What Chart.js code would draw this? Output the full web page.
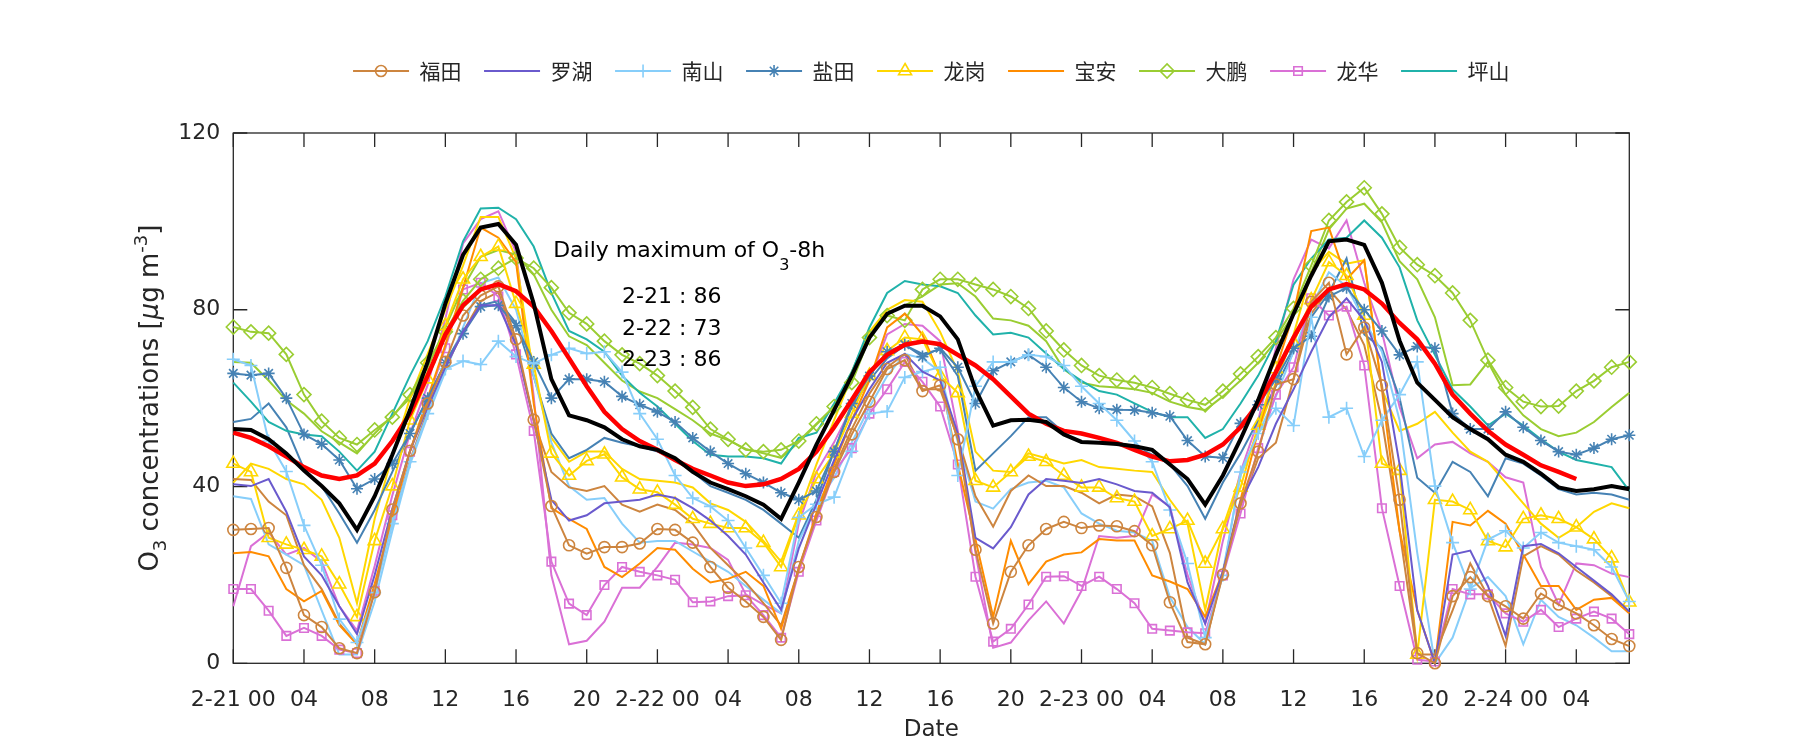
<!DOCTYPE html>
<html>
<head>
<meta charset="utf-8">
<script src="https://cdn.jsdelivr.net/npm/chart.js@4.4.1/dist/chart.umd.min.js"></script>
<style>
html,body{margin:0;padding:0;background:#fff;}
#wrap{width:1800px;height:750px;position:relative;}
</style>
</head>
<body>
<div id="wrap"><canvas id="c" width="1800" height="750"></canvas></div>
<script>
// ---------- categories ----------
const hours = [0,1,2,3,4,5,6,7,8,9,10,11,12,13,14,15,16,17,18,19,20,21,22,23,24,25,26,27,28,29,30,31,32,33,34,35,36,37,38,39,40,41,42,43,44,45,46,47,48,49,50,51,52,53,54,55,56,57,58,59,60,61,62,63,64,65,66,67,68,69,70,71,72,73,74,75,76,77,78,79];
const tickLabels = ["2-21 00","04","08","12","16","20","2-22 00","04","08","12","16","20","2-23 00","04","08","12","16","20","2-24 00","04"];
const legendNames = ["福田","罗湖","南山","盐田","龙岗","宝安","大鹏","龙华","坪山"];
const dailyMaxLabels = ["2-21 : 86","2-22 : 73","2-23 : 86"];

// ---------- series values (O3, µg m-3, hourly) ----------
const futian = [30.2,30.4,30.6,21.6,10.9,8.2,3.4,2.3,16.1,34.8,48.1,58.8,68.2,78.7,83.2,85.3,73.3,55.1,35.6,26.7,24.8,26.3,26.3,27.1,30.4,30.2,27.3,21.8,17.1,14.0,10.5,5.3,21.8,33.1,43.3,51.8,59.2,66.6,68.6,61.6,62.9,50.7,25.7,9.0,20.7,26.7,30.4,32.0,30.6,31.2,31.0,29.9,26.7,13.8,4.8,4.3,20.1,36.2,47.9,63.1,64.3,81.8,86.1,69.9,76.0,62.9,37.0,2.3,0.0,15.2,19.5,15.2,12.9,10.1,15.8,13.3,11.3,8.6,5.5,3.9];
const futian2 = [41.7,41.5,36.6,33.5,22.2,16.8,9.0,4.3,17,32,46,57,67,75,82,84,72,55,43.3,39.8,39.0,40.1,35.9,34.3,35.9,34.7,31.6,26.1,22.2,18.3,13.6,8.6,21.4,33,44,53,61,67,70,62,62,51,37.8,30.9,39.0,42.5,40.1,40.1,38.6,36.2,38.2,37.8,35.5,25,5.8,4.3,20.7,35.5,46.4,49.9,64.3,79.1,84.6,80,72,55,30,2,2,12,22.6,15.2,3.9,24.2,26.5,24.6,21.0,18.3,15.2,11.3];
const luohu = [40.5,40.1,41.7,34.3,24.2,19.9,12.9,6.6,20,35,48,58,67,75,81,81,72,55,37,32.3,33.5,36.2,36.6,37.0,38.2,37.4,35.1,32.3,28.8,24.6,18.3,12.1,26,36,46,55,62,68,70,66,64,52,28.4,26.0,30.8,38.2,41.7,41.3,40.8,41.7,40.5,39.0,38.6,35.3,18.3,9.0,20.7,36.6,44.4,54.2,62.0,70.5,78.3,82.6,77.6,68.2,45,12,0,24.6,25.5,17.5,6.2,26.5,27.0,24.9,21.8,18.7,15.6,11.7];
const nanshan = [68.8,67.4,50.3,43.4,31.2,22.2,10,4.7,16,31.6,45.6,56.5,66.6,68.4,67.6,72.9,69.4,67.8,69.8,71.3,70.1,70.5,65.9,56.5,50.7,42.5,37.4,35.5,32.3,26.1,19.9,13.6,33,36,37.6,48,56.5,57,64.7,66,67,42.5,62.7,68.2,68.2,69.8,69.4,67.4,62.7,58.8,55.0,50.3,45.6,34.7,22.6,5.8,19.9,43.3,52,57.7,53.8,78.3,55.7,57.7,46.8,55,60.8,68.2,40.1,27.3,16.8,28.0,30.0,26.1,29.6,27.3,26.5,25.7,21.8,14.0];
const nanshan2 = [37.8,37.2,26.9,24.6,22.2,12,2,2,14,30,45,56,66,76,86,87.3,80,65,50,40.1,37.0,37.4,31.6,27.3,27.7,27.7,25.3,23.0,20.7,17.5,14.4,11.3,27.7,36,42,50,58,65,70,69,66,50,36.6,35.0,39.4,40.9,41.3,39.8,33.9,31.6,30.0,29.6,27.7,15,8.2,4.3,20.7,42.5,52,60.4,70.5,80.7,88.5,85.3,77.6,70.5,55,25,0,5.8,17.0,19.5,15.2,4.3,14.4,10.5,8.6,5.8,2.7,2.7];
const yantian = [65.6,65.2,65.6,60.0,51.8,49.6,46.0,39.5,41.7,45.2,52,60,68,74.6,80.7,81.0,76.4,68.2,60.0,64.3,64.3,63.7,60.4,58.5,56.9,54.6,51.0,47.9,45.2,42.9,40.9,38.6,37.0,39.0,47.9,58.8,65,70.5,72.1,69.4,71.3,67.0,58.8,66.2,68.2,69.8,67.0,62.4,59.2,57.7,57.4,57.3,56.7,55.9,50.4,46.8,46.5,54.3,58.5,64.3,71.3,74.0,83,85,80,75.2,69.8,71.7,71.3,56.5,53.0,53.0,56.9,53.4,50.4,47.9,47.2,48.7,50.7,51.6];
const yantian2 = [54.6,55.3,58.8,53.4,44.0,40.1,33.9,27.3,34.7,43.3,52,60,68,75,81,82,77,65,52,46.4,48.3,51.0,49.9,49.1,47.9,46.4,43.3,40.1,38.6,37.0,34.7,31.6,28.4,37,48,58,64,69,72,70,71,65,43.6,47.5,51.4,55.7,55.7,52.2,49.9,50.1,49.9,49.1,47.2,45,40.1,32.7,40.9,47.5,55.0,62.7,70.5,78.3,83.8,91.6,74.4,71.3,60,42,38.6,45.6,43.3,37.8,46.4,45.2,42.5,39.4,38.2,38.6,38.2,37.0];
const longgang = [45.2,43.3,28.4,26.9,25.7,24.2,17.9,10.5,27.7,40.1,55.0,64.3,76.4,86.9,92.0,94.3,81.4,67.6,47.5,42.5,45.8,47.3,42.1,39.4,38.7,35.9,32.7,31.6,30.6,30.6,27.3,21.8,33.5,41.7,47.5,56.5,65.1,70.7,73.7,73.3,65,61.2,41.3,39.8,43.3,46.8,45.6,42.5,39.8,39.8,37.4,36.6,28.8,30.4,32.3,22.6,30.4,39.8,53.8,66.6,72.5,82.2,90.8,87.7,78.7,45.2,43.6,2,37.0,36.6,34.7,27.7,26.3,32.7,33.5,32.7,30.8,28.1,23.8,13.8];
const longgang2 = [40.9,45.2,44.0,41.7,40.5,37.0,28.4,13.6,32.7,47,60,70,80,90,101,101,91.6,65,51,45.6,47.9,47.9,44.0,41.7,41.3,40.9,39.8,36.2,34.7,32,27.7,23,33.9,45,55,65,75,80,82.2,81.8,75,66,47.9,43.6,43.3,47.5,46.4,45.2,46.0,44.4,44.0,43.6,43.3,37,31.6,12.1,30.8,42.5,52.6,63.5,74.4,88.5,93.1,90.4,91.2,62,52.6,54.2,56.9,52.2,47.9,45.6,40.9,36.2,31.6,28.4,30.8,34.3,36.2,35.1];
const baoan = [24.9,25.2,24.2,16.8,14.0,16.4,8.6,4.3,18,33,48,60,72,85,98.6,96.3,90.8,58.8,35.1,32.7,30.4,21.8,19.5,22.6,26.1,25.7,21.4,18.3,19.1,20.7,17.5,7.8,21.4,34,45,55,64,76,79.1,74.4,65,45,28,10.5,27.7,17.9,23.0,24.6,25.1,28.1,27.8,27.8,19.9,18.5,16.8,10.5,20.7,37.0,52.6,66.6,79.1,97.8,98.6,86.9,91.2,62,30,12,0,32.0,31.2,34.5,31.6,24.6,17.5,17.5,12.1,14.4,14.8,11.3];
const dapeng = [76.1,75.0,74.7,69.9,60.8,54.8,51.0,49.5,52.8,55.7,60.8,68,75,82,86.9,89.4,91.7,89.4,85.0,79.3,76.8,72.9,69.8,67.8,65.1,61.6,57.9,53.0,50.7,48.3,47.9,48.3,50.3,54.2,58.1,63.5,73.7,78.7,77.6,84.6,86.9,86.9,85.7,84.6,83.0,80.3,75.2,70.9,67.4,65.1,64.1,63.5,62.4,61.0,59.6,58.5,61.6,65.5,69.4,73.7,80.3,90.0,100.2,104.4,107.6,101.7,94.1,90.2,87.7,83.8,77.6,68.6,62.4,59.2,58.1,58.2,61.6,63.9,67.0,68.2];
const dapeng2 = [68.2,68.0,64,59.5,56.5,52.5,50,47.5,52,56,60,67,76,85,92,93.5,92.5,88,80,74,72,68,64,61.5,60,57.5,55,52,50.5,48.5,47.5,46.5,50,54,58,66,75,79,81,83,85.7,86,83,78,77.6,76.4,72.9,66.6,63.5,62.7,62.4,62.0,61.2,59.2,58,57.3,60.4,64,68,72.9,79,88.5,98.2,102.9,104,99.8,91,86.9,78.3,62.9,63.1,68.2,60.8,56.1,53.0,51.4,52.2,54.6,58.0,61.2];
const longhua = [16.8,16.8,11.9,6.2,8.0,6.2,3.1,2.3,16.4,33.5,47.9,59.6,71.3,84.6,86.1,83.0,69.9,52.6,23.0,13.5,10.9,17.7,21.8,20.7,19.9,18.9,13.8,14.0,15.2,15.4,10.9,5.8,20.7,32.3,43.3,48.7,56.5,62.0,68.2,63.7,58.1,45,19.6,4.9,7.8,13.3,19.6,19.7,17.5,19.6,16.8,13.6,7.8,7.4,7.0,6.8,19.9,33.9,48.7,60.8,67.0,82.6,78.7,80.7,67.4,35.1,17.5,0.8,0.4,16.8,15.6,15.6,11.3,9.4,12.1,8.2,10.1,11.7,10.1,6.6];
const longhua2 = [12.9,26.5,29.6,24.6,26.1,23.0,12.9,7.4,22,38,52,63,78,95,100.5,102.3,93,60.4,19.9,4.3,5.1,9.4,17.1,17.1,21.8,27.3,26.9,26.1,23.4,15.6,13.3,11.3,31.6,43.3,50,58,64,74.4,76.8,76.4,72.9,52.6,25,3.5,4.7,9.7,14.0,9.0,16.4,28.8,28.4,28.8,38.2,35.5,20,9.0,27.7,43.3,55.0,71.3,86.9,95.9,93.9,100.2,86.1,75,58,46.4,49.5,50.1,47.5,45.6,42.1,40.9,21.8,13.3,22.6,22.2,20.3,19.5];
const pingshan = [63.5,59.2,54.6,52.6,51.8,51.4,47.9,43.6,47.9,56.5,65.1,72.9,83.0,95.5,102.9,103.1,100.5,94.3,83.8,75.2,73.3,70.5,65.1,61.2,58.1,54.2,50.3,47.2,46.8,46.8,46.4,45.2,51.0,52.2,58.8,65.9,76.0,83.8,86.5,85.7,85.3,83.8,78.7,74.4,74.8,73.7,70.1,66.6,63.9,61.6,60.8,58.8,56.9,55.7,55.7,51.0,53.0,58.8,65.1,72.9,85.7,91.6,95.9,96.3,100.2,96.3,89.6,77.6,69.8,62.0,58.1,53.8,56.5,53.8,50.7,47.9,46.0,45.2,44.4,39.0];
const cityMean = [53.0,52.8,50.7,47.5,43.6,40.1,36.2,30.2,37.8,47.2,57.3,68.2,81.4,92.4,98.6,99.4,94.7,81.4,64.3,56.1,55.0,53.4,50.7,49.1,48.3,46.4,43.3,40.9,39.4,37.8,35.9,32.7,40.9,49.5,57.3,65.1,73.7,79.1,80.9,80.9,78.5,73.3,62.0,53.8,55.0,55.1,54.6,51.8,50.1,49.9,49.6,49.1,48.3,45,41.7,35.9,42.5,50.7,59.6,69.8,79.1,87.7,95.5,95.9,94.7,86.1,73,63.5,59.6,55.7,53.0,50.7,47.2,45.6,42.9,39.8,39.0,39.4,40.1,39.4];
const movingAvg8h = [52.2,51.0,49.1,46.8,44.4,42.5,41.7,42.5,45.2,50.3,56.5,65.1,74.4,81.0,84.6,85.8,84.2,80.7,75.2,69.0,62.7,56.9,53.0,50.3,48.3,46.0,44.0,42.5,40.9,40.1,40.5,41.7,44.0,47.9,53.4,59.6,65.9,69.8,72.1,72.8,72.2,69.8,67.4,64.3,60.4,56.5,54.2,52.6,52.0,51.0,49.9,48.3,46.8,45.7,46.0,47.2,49.5,53.4,58.8,65.9,73.7,80.7,84.6,85.8,84.6,81.4,77,73.3,67.8,60.8,56.5,52.6,49.5,47.2,44.8,43.3,41.7,null,null,null];

// ---------- styles ----------
const FONT = "'DejaVu Sans', sans-serif";
const CJK = "'Noto Sans CJK SC', sans-serif";
const AX = '#262626';
const stations = [
  {name:'福田', data:futian,   color:'#CD853F', marker:'circle',   r:5.5},
  {name:'罗湖', data:luohu,    color:'#6A5ACD', marker:null},
  {name:'南山', data:nanshan,  color:'#87CEFA', marker:'cross',    r:6.5},
  {name:'盐田', data:yantian,  color:'#4682B4', marker:'star',     r:6},
  {name:'龙岗', data:longgang, color:'#FFD700', marker:'triangle', r:7.5},
  {name:'宝安', data:baoan,    color:'#FF8C00', marker:null},
  {name:'大鹏', data:dapeng,   color:'#9ACD32', marker:'rectRot',  r:7},
  {name:'龙华', data:longhua,  color:'#DA70D6', marker:'rect',     r:6},
  {name:'坪山', data:pingshan, color:'#20B2AA', marker:null}
];
const extraLines = [
  {data:futian2,   color:'#CD853F'},
  {data:nanshan2,  color:'#87CEFA'},
  {data:yantian2,  color:'#4682B4'},
  {data:longgang2, color:'#FFD700'},
  {data:dapeng2,   color:'#9ACD32'},
  {data:longhua2,  color:'#DA70D6'}
];

function xy(arr){ return arr.map((v,i)=>({x:hours[i], y:v})); }

const datasets = [];
datasets.push({label:'mean', data:xy(cityMean), borderColor:'#000000', backgroundColor:'#000000', borderWidth:4, pointRadius:0, order:0});
datasets.push({label:'ma8', data:xy(movingAvg8h), borderColor:'#FF0000', backgroundColor:'#FF0000', borderWidth:4.5, pointRadius:0, order:1});
stations.forEach(s => datasets.push({
  label:s.name, data:xy(s.data), borderColor:s.color, backgroundColor:s.color, borderWidth:2,
  pointStyle:s.marker || 'circle', pointRadius:s.marker ? s.r : 0,
  pointBorderColor:s.color, pointBackgroundColor:'rgba(255,255,255,0)', pointBorderWidth:1.6, order:2
}));
extraLines.forEach(s => datasets.push({
  label:'', data:xy(s.data), borderColor:s.color, backgroundColor:s.color, borderWidth:2, pointRadius:0, order:3
}));

function drawRich(ctx, parts, x, y, measureOnly){
  let cx = x;
  parts.forEach(p => {
    ctx.font = (p.italic ? 'italic ' : '') + p.size + 'px ' + FONT;
    if (!measureOnly) ctx.fillText(p.t, cx, y + (p.dy || 0));
    cx += ctx.measureText(p.t).width;
  });
  return cx - x;
}

const legendSizer = {
  id:'legendSizer',
  beforeUpdate(chart){
    const lg = chart.legend;
    if (lg && !lg._patched){
      const orig = lg.fit;
      lg.fit = function(){ orig.call(this); this.height = 95; };
      lg._patched = true;
    }
  }
};

const framePlugin = {
  id:'frame',
  beforeDatasetsDraw(chart){
    const {ctx, chartArea:a, scales:{x, y}} = chart;
    ctx.save();
    ctx.strokeStyle = AX; ctx.lineWidth = 1.3;
    ctx.strokeRect(a.left, a.top, a.right - a.left, a.bottom - a.top);
    const L = 14;
    ctx.beginPath();
    x.ticks.forEach(t => { const px = x.getPixelForValue(t.value);
      ctx.moveTo(px, a.bottom); ctx.lineTo(px, a.bottom - L);
      ctx.moveTo(px, a.top); ctx.lineTo(px, a.top + L); });
    y.ticks.forEach(t => { const py = y.getPixelForValue(t.value);
      ctx.moveTo(a.left, py); ctx.lineTo(a.left + L, py);
      ctx.moveTo(a.right, py); ctx.lineTo(a.right - L, py); });
    ctx.stroke();
    // y tick labels (taken from the library's y scale ticks)
    ctx.fillStyle = AX; ctx.font = '22px ' + FONT;
    ctx.textAlign = 'right'; ctx.textBaseline = 'middle';
    y.ticks.forEach(t => ctx.fillText(String(t.value), a.left - 13, y.getPixelForValue(t.value)));
    ctx.restore();
  },
  afterDraw(chart){
    const {ctx, chartArea:a, scales:{x, y}} = chart;
    // legend markers
    const lg = chart.legend;
    if (lg && lg.legendHitBoxes){
      const bw = lg.options.labels.boxWidth;
      lg.legendItems.forEach((item, i) => {
        const st = stations.find(s => s.name === item.text);
        const hb = lg.legendHitBoxes[i];
        if (!st || !st.marker || !hb) return;
        ctx.save();
        ctx.strokeStyle = st.color; ctx.fillStyle = 'rgba(255,255,255,0)'; ctx.lineWidth = 1.6;
        Chart.helpers.drawPoint(ctx, {pointStyle:st.marker, radius:st.r, rotation:0, borderWidth:1.6}, hb.left + bw/2, hb.top + hb.height/2);
        ctx.restore();
      });
    }
    // y axis title
    ctx.save();
    ctx.fillStyle = AX; ctx.textBaseline = 'alphabetic'; ctx.textAlign = 'left';
    const yParts = [
      {t:'O', size:26}, {t:'3', size:18, dy:8}, {t:' concentrations [', size:26},
      {t:'μ', size:26, italic:true}, {t:'g m', size:26}, {t:'-3', size:18, dy:-11}, {t:']', size:26}
    ];
    const W = drawRich(ctx, yParts, 0, 0, true);
    ctx.translate(158, (a.top + a.bottom)/2);
    ctx.rotate(-Math.PI/2);
    drawRich(ctx, yParts, -W/2, 0);
    ctx.restore();
    // annotation
    ctx.save();
    ctx.fillStyle = '#000'; ctx.textBaseline = 'alphabetic'; ctx.textAlign = 'left';
    drawRich(ctx, [{t:'Daily maximum of O', size:22}, {t:'3', size:16, dy:13}, {t:'-8h', size:22}],
      x.getPixelForValue(18.1), y.getPixelForValue(91.9));
    const baseVals = [81.6, 74.4, 67.2];
    dailyMaxLabels.forEach((s, i) => {
      ctx.font = '22px ' + FONT;
      ctx.fillText(s, x.getPixelForValue(22.0), y.getPixelForValue(baseVals[i]));
    });
    ctx.restore();
  }
};

new Chart(document.getElementById('c'), {
  type:'line',
  data:{datasets},
  options:{
    responsive:false, animation:false, devicePixelRatio:1, events:[],
    layout:{padding:{left:233.3, right:170.7, top:38, bottom:0}},
    datasets:{line:{clip:false, tension:0, spanGaps:false}},
    plugins:{
      tooltip:{enabled:false},
      legend:{
        position:'top', align:'center',
        labels:{
          boxWidth:56, boxHeight:2, padding:22.5, color:AX,
          font:{family:CJK, size:21},
          generateLabels:(chart) => chart.data.datasets
            .map((ds, i) => ({text:ds.label, fillStyle:ds.borderColor, strokeStyle:ds.borderColor, lineWidth:0, hidden:false, datasetIndex:i, fontColor:AX}))
            .filter(it => legendNames.includes(it.text))
        }
      }
    },
    scales:{
      x:{
        type:'linear', min:0, max:79,
        grid:{display:false}, border:{display:false},
        ticks:{stepSize:4, includeBounds:false, autoSkip:false, maxRotation:0, minRotation:0, padding:16, color:AX,
          font:{family:FONT, size:22}, callback:(v) => tickLabels[Math.round(v/4)]},
        title:{display:true, text:'Date', color:AX, font:{family:FONT, size:23}, padding:{top:6, bottom:6}},
        afterFit:(s) => { s.height = 86.7; s.paddingLeft = 0; s.paddingRight = 0; }
      },
      y:{
        min:0, max:120,
        grid:{display:false}, border:{display:false},
        ticks:{stepSize:40, padding:13, color:'rgba(0,0,0,0)', font:{family:FONT, size:22}},
        afterFit:(s) => { s.width = 0; s.paddingTop = 0; s.paddingBottom = 0; }
      }
    }
  },
  plugins:[legendSizer, framePlugin]
});
</script>
</body>
</html>
